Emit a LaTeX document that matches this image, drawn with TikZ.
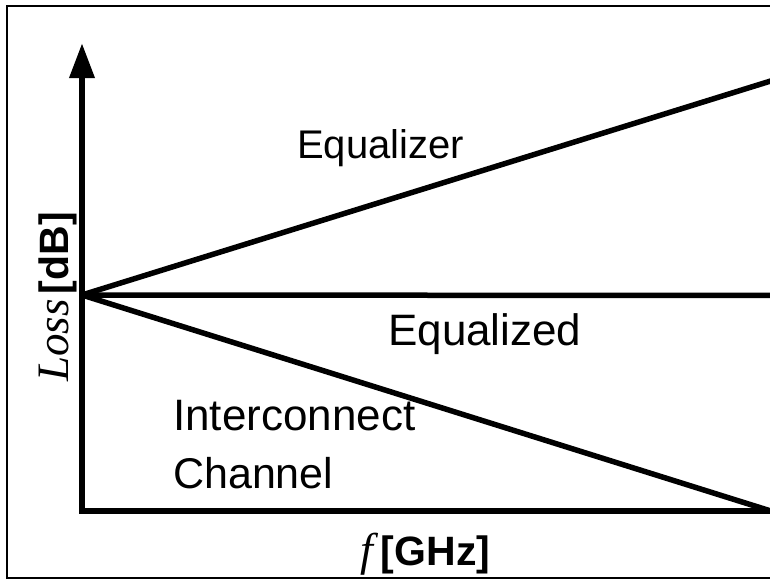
\documentclass[tikz,border=0pt]{standalone}
\usepackage{fontspec}
\setmainfont{Liberation Sans}
\newfontfamily\timesfont{Liberation Serif}
\usetikzlibrary{arrows.meta}

\begin{document}
\begin{tikzpicture}[x=1pt,y=-1pt,
  axis/.style={line width=6.5pt, line join=miter},
  trend/.style={line width=5.5pt},
  lbl/.style={inner sep=0pt, anchor=base west},
  big/.style={font=\fontsize{44}{50}\selectfont},
]
\useasboundingbox (0,0) rectangle (770,581);
\begin{scope}
  \clip (0,0) rectangle (770,581);
  % outer frame (open to the right)
  \draw[line width=2.6pt] (7,579) -- (7,6) -- (790,6);
  \draw[line width=1.3pt] (6,578) -- (790,578);

  % key points of the loss plot
  \coordinate (O) at (82,295);
  \coordinate (top) at (82,43);
  \coordinate (xend) at (790,511);
  \coordinate (corner) at (82,511);
  \coordinate (eqrEnd) at (790,75);
  \coordinate (eqdEnd) at (790,295.5);
  \coordinate (chEnd) at (790,517);

  % axes
  \draw[axis, -{Triangle[length=35pt,width=24pt]}] (xend) -- (corner) -- (top);

  % loss curves
  \draw[trend] (O) -- (eqrEnd);
  \draw[trend] (O) -- (eqdEnd);
  \draw[trend] (O) -- (chEnd);
\end{scope}

% curve labels
\node[lbl, font=\fontsize{40}{46}\selectfont] (eqr) at (297,158) {Equalizer};
\node[lbl, big] (eqd) at (388,345) {Equalized};
\node[lbl, big] (ic) at (173,430) {Interconnect};
\node[lbl, font=\fontsize{43}{50}\selectfont] (ch) at (173,488) {Channel};

% axis labels
\node[lbl] (xl) at (360,565)
  {{\fontsize{46}{50}\timesfont\itshape f}\hspace{8pt}{\fontsize{41}{48}\selectfont\bfseries [GHz]}};
\node[lbl, rotate=90] (yl) at (68,382)
  {{\fontsize{45}{50}\timesfont\itshape Loss}\hspace{5pt}{\fontsize{41}{48}\selectfont\bfseries [dB]}};
\end{tikzpicture}
\end{document}
